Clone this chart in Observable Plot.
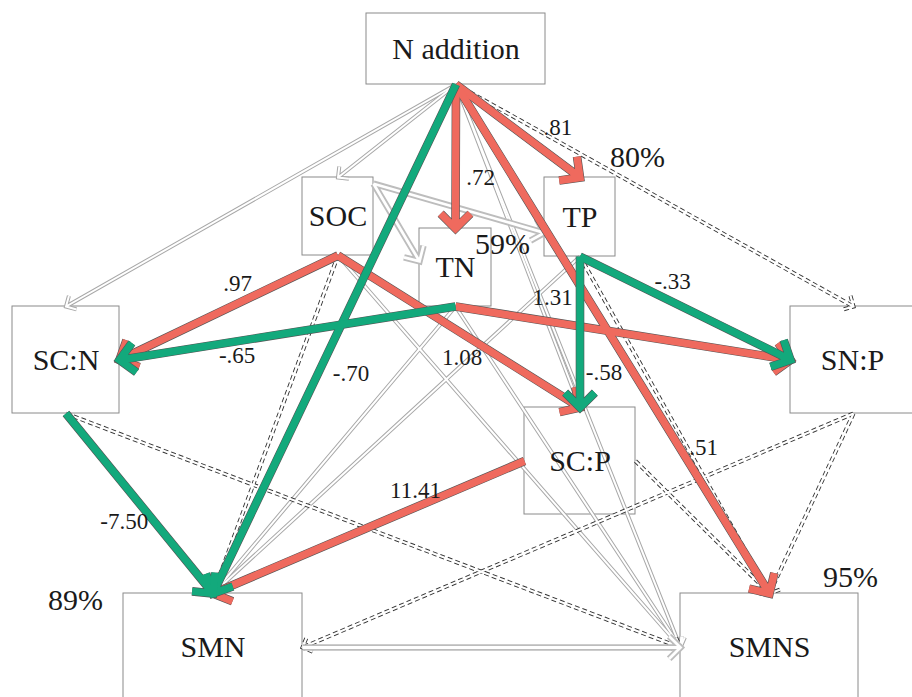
<!DOCTYPE html>
<html><head><meta charset="utf-8">
<script src="https://cdn.jsdelivr.net/npm/d3@7"></script>
<script src="https://cdn.jsdelivr.net/npm/@observablehq/plot@0.6"></script>
<style>html,body{margin:0;padding:0;background:#fff;overflow:hidden;font-family:'Liberation Serif',serif}
.sr{position:absolute;left:0;top:0;width:1px;height:1px;overflow:hidden;clip:rect(0 0 0 0);white-space:nowrap}</style>
</head><body><div class="sr">Path diagram</div><div id="chart" style="font-family:'Liberation Serif'"></div>
<script>
// ---- Nodes (layout in canvas units, 912 x 697) ----
const nodeNames = ["N addition","SOC","TN","TP","SC:N","SN:P","SC:P","SMN","SMNS"];
const nodeX0 = [366,302,419,544,12,790,524,123,680];
const nodeX1 = [545,373,491,615,119,916,635,302,858];
const nodeY0 = [13,177,228,177,306,306,407,593,593];
const nodeY1 = [84,255,306,256,413,413,514,701,701];

// ---- Explained variance (R²) ----
const r2Node   = ["TN","TP","SMN","SMNS"];
const r2Text   = ["59%","80%","89%","95%"];
const r2PosX   = [502,637,75,850];
const r2PosY   = [244,157,600,577];

// ---- Paths ----
const edgeFrom = ["N addition","N addition","N addition","N addition","SOC","SOC","TN","TN","TP","TP","SC:N","SC:P",
                  "N addition","N addition","N addition","N addition","SOC","TN","TN","TP",
                  "SMN","SOC","SOC",
                  "N addition","SOC","SC:N","SN:P","SN:P","SC:P","TP"];
const edgeTo   = ["SMN","TN","TP","SMNS","SC:N","SC:P","SC:N","SN:P","SN:P","SC:P","SMN","SMN",
                  "SOC","SC:N","SC:P","SMNS","SMNS","SMN","SMNS","SMN",
                  "SMNS","TN","TP",
                  "SN:P","SMN","SMNS","SMN","SMNS","SMNS","SMNS"];
const edgeCoef = ["-.70",".72",".81",".51",".97","1.08","-.65","1.31","-.33","-.58","-7.50","11.41",
                  "","","","","","","","",
                  "","","",
                  "","","","","","",""];
// pos = significant positive, neg = significant negative, ns = not significant (solid), cov = thick grey, dash = not significant (dashed)
const edgeType = ["neg","pos","pos","pos","pos","pos","neg","pos","neg","neg","neg","pos",
                  "ns","ns","ns","ns","ns","ns","ns","ns",
                  "cov","cov","cov",
                  "dash","dash","dash","dash","dash","dash","dash"];
const edgeFromPort = ["bottom","bottom","bottom","bottom","bottom","bottom","bottom","bottom","bottom","bottom","bottom","left",
                  "bottom","bottom","bottom","bottom","bottom","bottom","bottom","bottom",
                  "right","topright","topright",
                  "bottom","bottom","bottom","bottom","bottom","right","bottom"];
const edgeToPort = ["top","top","top","top","right","top","right","left","left","top","top","top",
                  "top","top","top","left","left","top","left","top",
                  "left","left40","left70",
                  "top","top","left","right","top","top","top"];
// coefficient label placement: fraction along path and offset
const labelT  = [0.568,0.65,0.70,0.713,0.459,0.50,0.65,0.29,0.44,0.77,0.60,0.35];
const labelDx = [33,25,15,24,0,3,0,0,0,24,-30,0];
const labelDy = [0,0,-22,0,-20,26,14,-24,-20,0,0,-17];

const ports = {top:[0.5,0],bottom:[0.5,1],left:[0,0.5],right:[1,0.5],topright:[1,0.08],left40:[0,0.42],left70:[0,0.7]};
const nodes = nodeNames.map((n,i)=>({name:n,x0:nodeX0[i],x1:nodeX1[i],y0:nodeY0[i],y1:nodeY1[i],
  cx:(nodeX0[i]+Math.min(nodeX1[i],912))/2, cy:(nodeY0[i]+Math.min(nodeY1[i],697))/2}));
nodes.find(d=>d.name==="SMN").cy = 647; nodes.find(d=>d.name==="SMNS").cy = 647;
nodes.find(d=>d.name==="SN:P").cx = 852;
const byName = Object.fromEntries(nodes.map(d=>[d.name,d]));
function pt(name, port){
  const b = byName[name], p = ports[port];
  return [b.x0 + (b.x1-b.x0)*p[0], b.y0 + (b.y1-b.y0)*p[1]];
}
const edges = edgeFrom.map((f,i)=>{
  const [x1,y1] = pt(f, edgeFromPort[i]);
  const [x2,y2] = pt(edgeTo[i], edgeToPort[i]);
  return {from:f,to:edgeTo[i],type:edgeType[i],label:edgeCoef[i],x1,y1,x2,y2};
});
const labels = edges.slice(0,12).map((e,i)=>({label:e.label,
  x:e.x1+(e.x2-e.x1)*labelT[i]+labelDx[i], y:e.y1+(e.y2-e.y1)*labelT[i]+labelDy[i]}));
const r2 = r2Text.map((t,i)=>({node:r2Node[i],text:t,x:r2PosX[i],y:r2PosY[i]}));

const RED = "#EF6A5E", GREEN = "#13A97C";
const SERIF = "Liberation Serif";
const A = {x1:"x1",y1:"y1",x2:"x2",y2:"y2",headAngle:90,strokeLinecap:"butt",strokeLinejoin:"miter",strokeMiterlimit:10};
function arrowPair(data, outer, inner, swOut, swIn, h, dash){
  return [
    Plot.arrow(data, {...A, stroke: outer, strokeWidth: swOut, headLength: h*1.5/swOut, strokeDasharray: dash}),
    Plot.arrow(data, {...A, stroke: inner, strokeWidth: swIn, headLength: h*1.5/swIn})
  ];
}
const ofType = t => edges.filter(e=>e.type===t);

const chart = Plot.plot({
  width: 912, height: 697, margin: 0,
  x: {domain:[0,912], range:[0,912], axis:null},
  y: {domain:[0,697], range:[0,697], axis:null},
  marks: [
    Plot.rect(nodes, {x1:"x0", x2:"x1", y1:"y0", y2:"y1", fill:"white", stroke:"#8a8a8a", strokeWidth:1}),
    ...arrowPair(ofType("ns"), "#a8a8a8", "white", 4, 2, 11),
    ...arrowPair(ofType("dash"), "#333", "white", 4, 2.2, 11, "5,3"),
    ...arrowPair(ofType("cov"), "#bdbdbd", "white", 6.5, 2.8, 16),
    Plot.arrow(ofType("pos"), {...A, stroke:"#555", strokeWidth:8.6, headLength:21*1.5/8.6}),
    Plot.arrow(ofType("pos"), {...A, stroke:RED, strokeWidth:7.4, headLength:21*1.5/7.4}),
    Plot.arrow(ofType("neg"), {...A, stroke:"#555", strokeWidth:8.6, headLength:21*1.5/8.6}),
    Plot.arrow(ofType("neg"), {...A, stroke:GREEN, strokeWidth:7.4, headLength:21*1.5/7.4}),
    Plot.text(nodes, {x:"cx", y:"cy", text:"name", fontSize:30, fill:"#1a1a1a", fontFamily:SERIF}),
    Plot.text(labels, {x:"x", y:"y", text:"label", fontSize:23, fill:"#1a1a1a", fontFamily:SERIF}),
    Plot.text(r2, {x:"x", y:"y", text:"text", fontSize:30, fill:"#1a1a1a", fontFamily:SERIF})
  ]
});
document.getElementById("chart").appendChild(chart);
chart.querySelectorAll("text").forEach(t => { t.setAttribute("font-family", SERIF); t.style.fontFamily = "'Liberation Serif', serif"; });
</script>
</body></html>
